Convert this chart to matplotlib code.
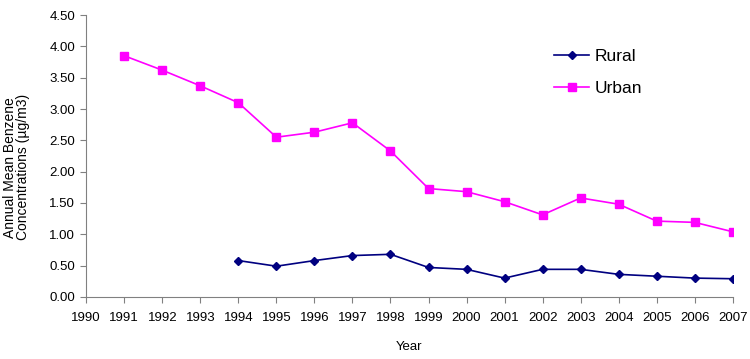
import matplotlib
matplotlib.use('Agg')
from matplotlib import pyplot as plt

plt.rcParams['font.family'] = ['Liberation Sans', 'DejaVu Sans']

years = list(range(1990, 2008))
urban_years = list(range(1991, 2008))
urban = [3.85, 3.62, 3.37, 3.10, 2.55, 2.63, 2.78, 2.33, 1.73, 1.68,
         1.52, 1.31, 1.58, 1.48, 1.21, 1.19, 1.04]
rural_years = list(range(1994, 2008))
rural = [0.58, 0.49, 0.58, 0.66, 0.68, 0.47, 0.44, 0.30, 0.44, 0.44,
         0.36, 0.33, 0.30, 0.29]
yticks = [0.0, 0.5, 1.0, 1.5, 2.0, 2.5, 3.0, 3.5, 4.0, 4.5]

fig = plt.figure(figsize=(7.5, 3.59), dpi=100)
ax = fig.add_axes([0.115, 0.173, 0.862, 0.785])

ax.plot(rural_years, rural, color='#000080', marker='D', markersize=4,
        linewidth=1.2, label='Rural')
ax.plot(urban_years, urban, color='#FF00FF', marker='s', markersize=5.5,
        linewidth=1.2, label='Urban')

ax.set_xlim(1990, 2007)
ax.set_ylim(0, 4.5)
ax.set_xticks(years)
ax.set_xticklabels([str(y) for y in years])
ax.set_yticks(yticks)
ax.set_yticklabels(['%.2f' % v for v in yticks])
ax.tick_params(labelsize=9.5, color='#808080', length=4, direction='out')
ax.tick_params(axis='x', pad=7)
ax.tick_params(axis='y', pad=4)
for s in ['top', 'right']:
    ax.spines[s].set_visible(False)
for s in ['left', 'bottom']:
    ax.spines[s].set_color('#808080')

ax.set_xlabel('Year', fontsize=9.5, labelpad=12)
ax.set_ylabel('Annual Mean Benzene\nConcentrations (µg/m3)',
              fontsize=10, linespacing=0.9)
ax.yaxis.set_label_coords(-0.087, 0.46)

ax.legend(loc='upper left', bbox_to_anchor=(0.70, 0.935), frameon=False,
          fontsize=12.5, handlelength=2.0, labelspacing=0.95, handletextpad=0.3)

plt.savefig('out.png', dpi=100)
